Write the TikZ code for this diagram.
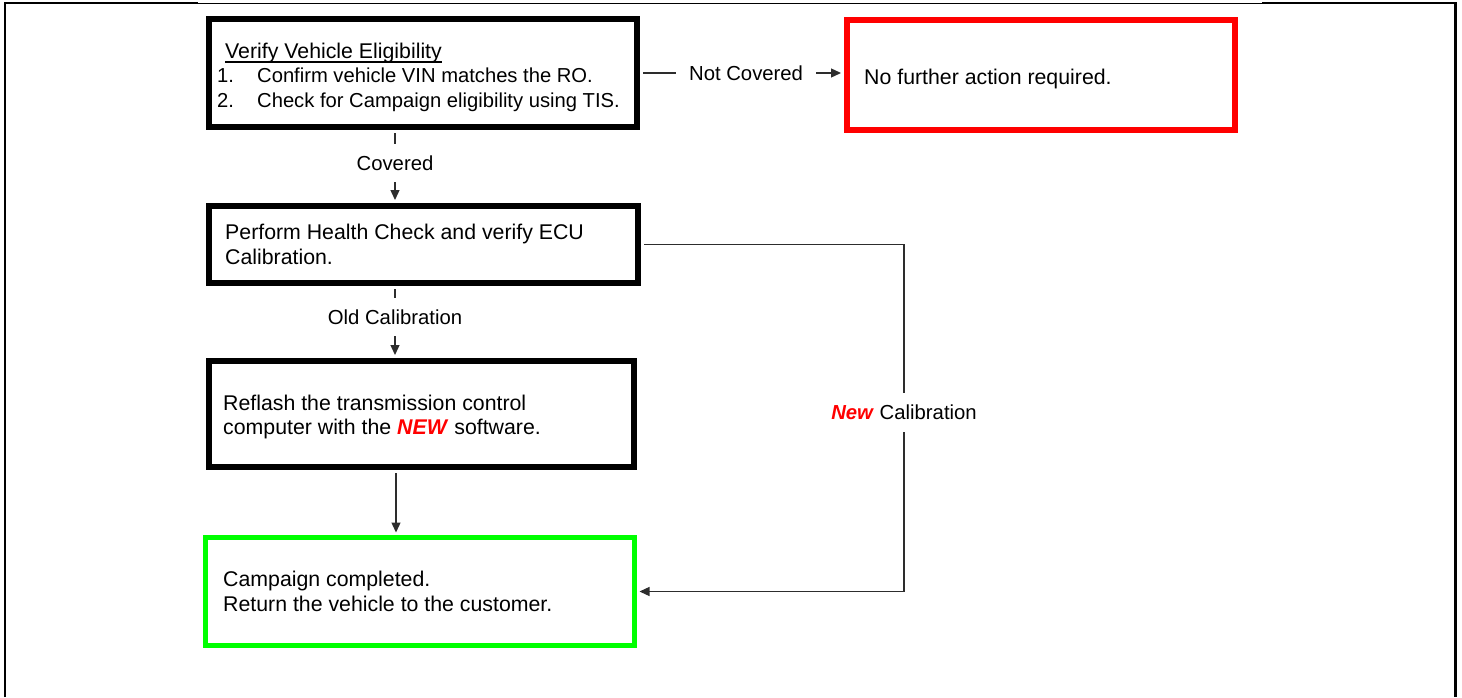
\documentclass[tikz,border=0pt]{standalone}
\usepackage{fontspec}
\setmainfont{Liberation Sans}
\usetikzlibrary{arrows.meta}
\definecolor{lime}{RGB}{0,255,0}
\definecolor{conngray}{RGB}{45,45,45}
\tikzset{
  box/.style={draw, line width=6pt, inner sep=0pt},
  txt/.style={anchor=base west, inner sep=0pt, font=\fontsize{21.3}{24.5}\selectfont},
  smalltxt/.style={txt, font=\fontsize{20.2}{24.5}\selectfont},
  conn/.style={draw=conngray, line width=1.3pt, -{Triangle[length=10pt,width=9pt]}},
  plain/.style={draw=conngray, line width=1.3pt},
  lbl/.style={fill=white, font=\fontsize{20.3}{24}\selectfont, text height=15pt, text depth=0pt, inner xsep=4pt, inner ysep=11.5pt},
  frame/.style={line width=2.3pt}
}
\begin{document}
\begin{tikzpicture}[x=1pt, y=-1pt]
\useasboundingbox (0,0) rectangle (1462,697);
% outer frame
\draw[frame] (5,697) -- (5,3) -- (198,3);
\draw[line width=1pt] (198,3) -- (1262,3);
\draw[frame] (1262,3) -- (1455.5,3) -- (1455.5,697);
% boxes
\node[box, minimum width=428pt, minimum height=108pt] (b1) at (423,73) {};
\node[box, draw=red, minimum width=388pt, minimum height=110pt] (red) at (1041,75) {};
\node[box, minimum width=429pt, minimum height=77pt] (b2) at (423.5,244.5) {};
\node[box, minimum width=425pt, minimum height=106pt] (b3) at (421.5,414) {};
\node[box, draw=lime, line width=5pt, minimum width=429pt, minimum height=108pt] (b4) at (420,591.5) {};
% texts
\node[txt] (h1) at (225,58) {Verify Vehicle Eligibility};
\draw[line width=1.1pt] ([yshift=-4pt]h1.base west) -- ([yshift=-4pt]h1.base east);
\node[smalltxt] (n1) at (217,82) {1.};
\node[smalltxt] (l1) at (257,82) {Confirm vehicle VIN matches the RO.};
\node[smalltxt] (n2) at (217,107) {2.};
\node[smalltxt] (l2) at (257,107) {Check for Campaign eligibility using TIS.};
\node[txt] (r1) at (864,84) {No further action required.};
\node[txt] (p1) at (225,239) {Perform Health Check and verify ECU};
\node[txt] (p2) at (225,264) {Calibration.};
\node[txt] (f1) at (223,410) {Reflash the transmission control};
\node[txt] (f2) at (223,434) {computer with the \textcolor{red}{\textbf{\textit{NEW}}} software.};
\node[txt] (c1) at (223,586) {Campaign completed.};
\node[txt] (c2) at (223,611) {Return the vehicle to the customer.};
% connectors
\draw[conn, shorten <=3pt, shorten >=3pt] ([xshift=-28pt]b1.south) -- node[lbl, pos=0.45] {Covered} ([xshift=-28.5pt]b2.north);
\draw[conn, shorten <=3pt, shorten >=3pt] ([xshift=-28.5pt]b2.south) -- node[lbl, pos=0.43] {Old Calibration} ([xshift=-26.5pt]b3.north);
\draw[conn, shorten <=3pt, shorten >=2.5pt] ([xshift=-25.5pt]b3.south) -- ([xshift=-24pt]b4.north);
\draw[conn, shorten <=3pt, shorten >=3pt] (b1.east) -- node[lbl, pos=0.52, inner xsep=13pt, inner ysep=4pt] {Not Covered} (b1.east -| red.west);
\coordinate (k) at (904,0);
\draw[plain, shorten <=3pt] (b2.east) -- (b2.east -| k) -- node[lbl, pos=0.483, inner ysep=12pt, inner xsep=2pt] {\textcolor{red}{\textbf{\textit{New}}} Calibration} (b4.east -| k);
\draw[conn, shorten >=2.5pt] (b4.east -| k) -- (b4.east);
\end{tikzpicture}
\end{document}
